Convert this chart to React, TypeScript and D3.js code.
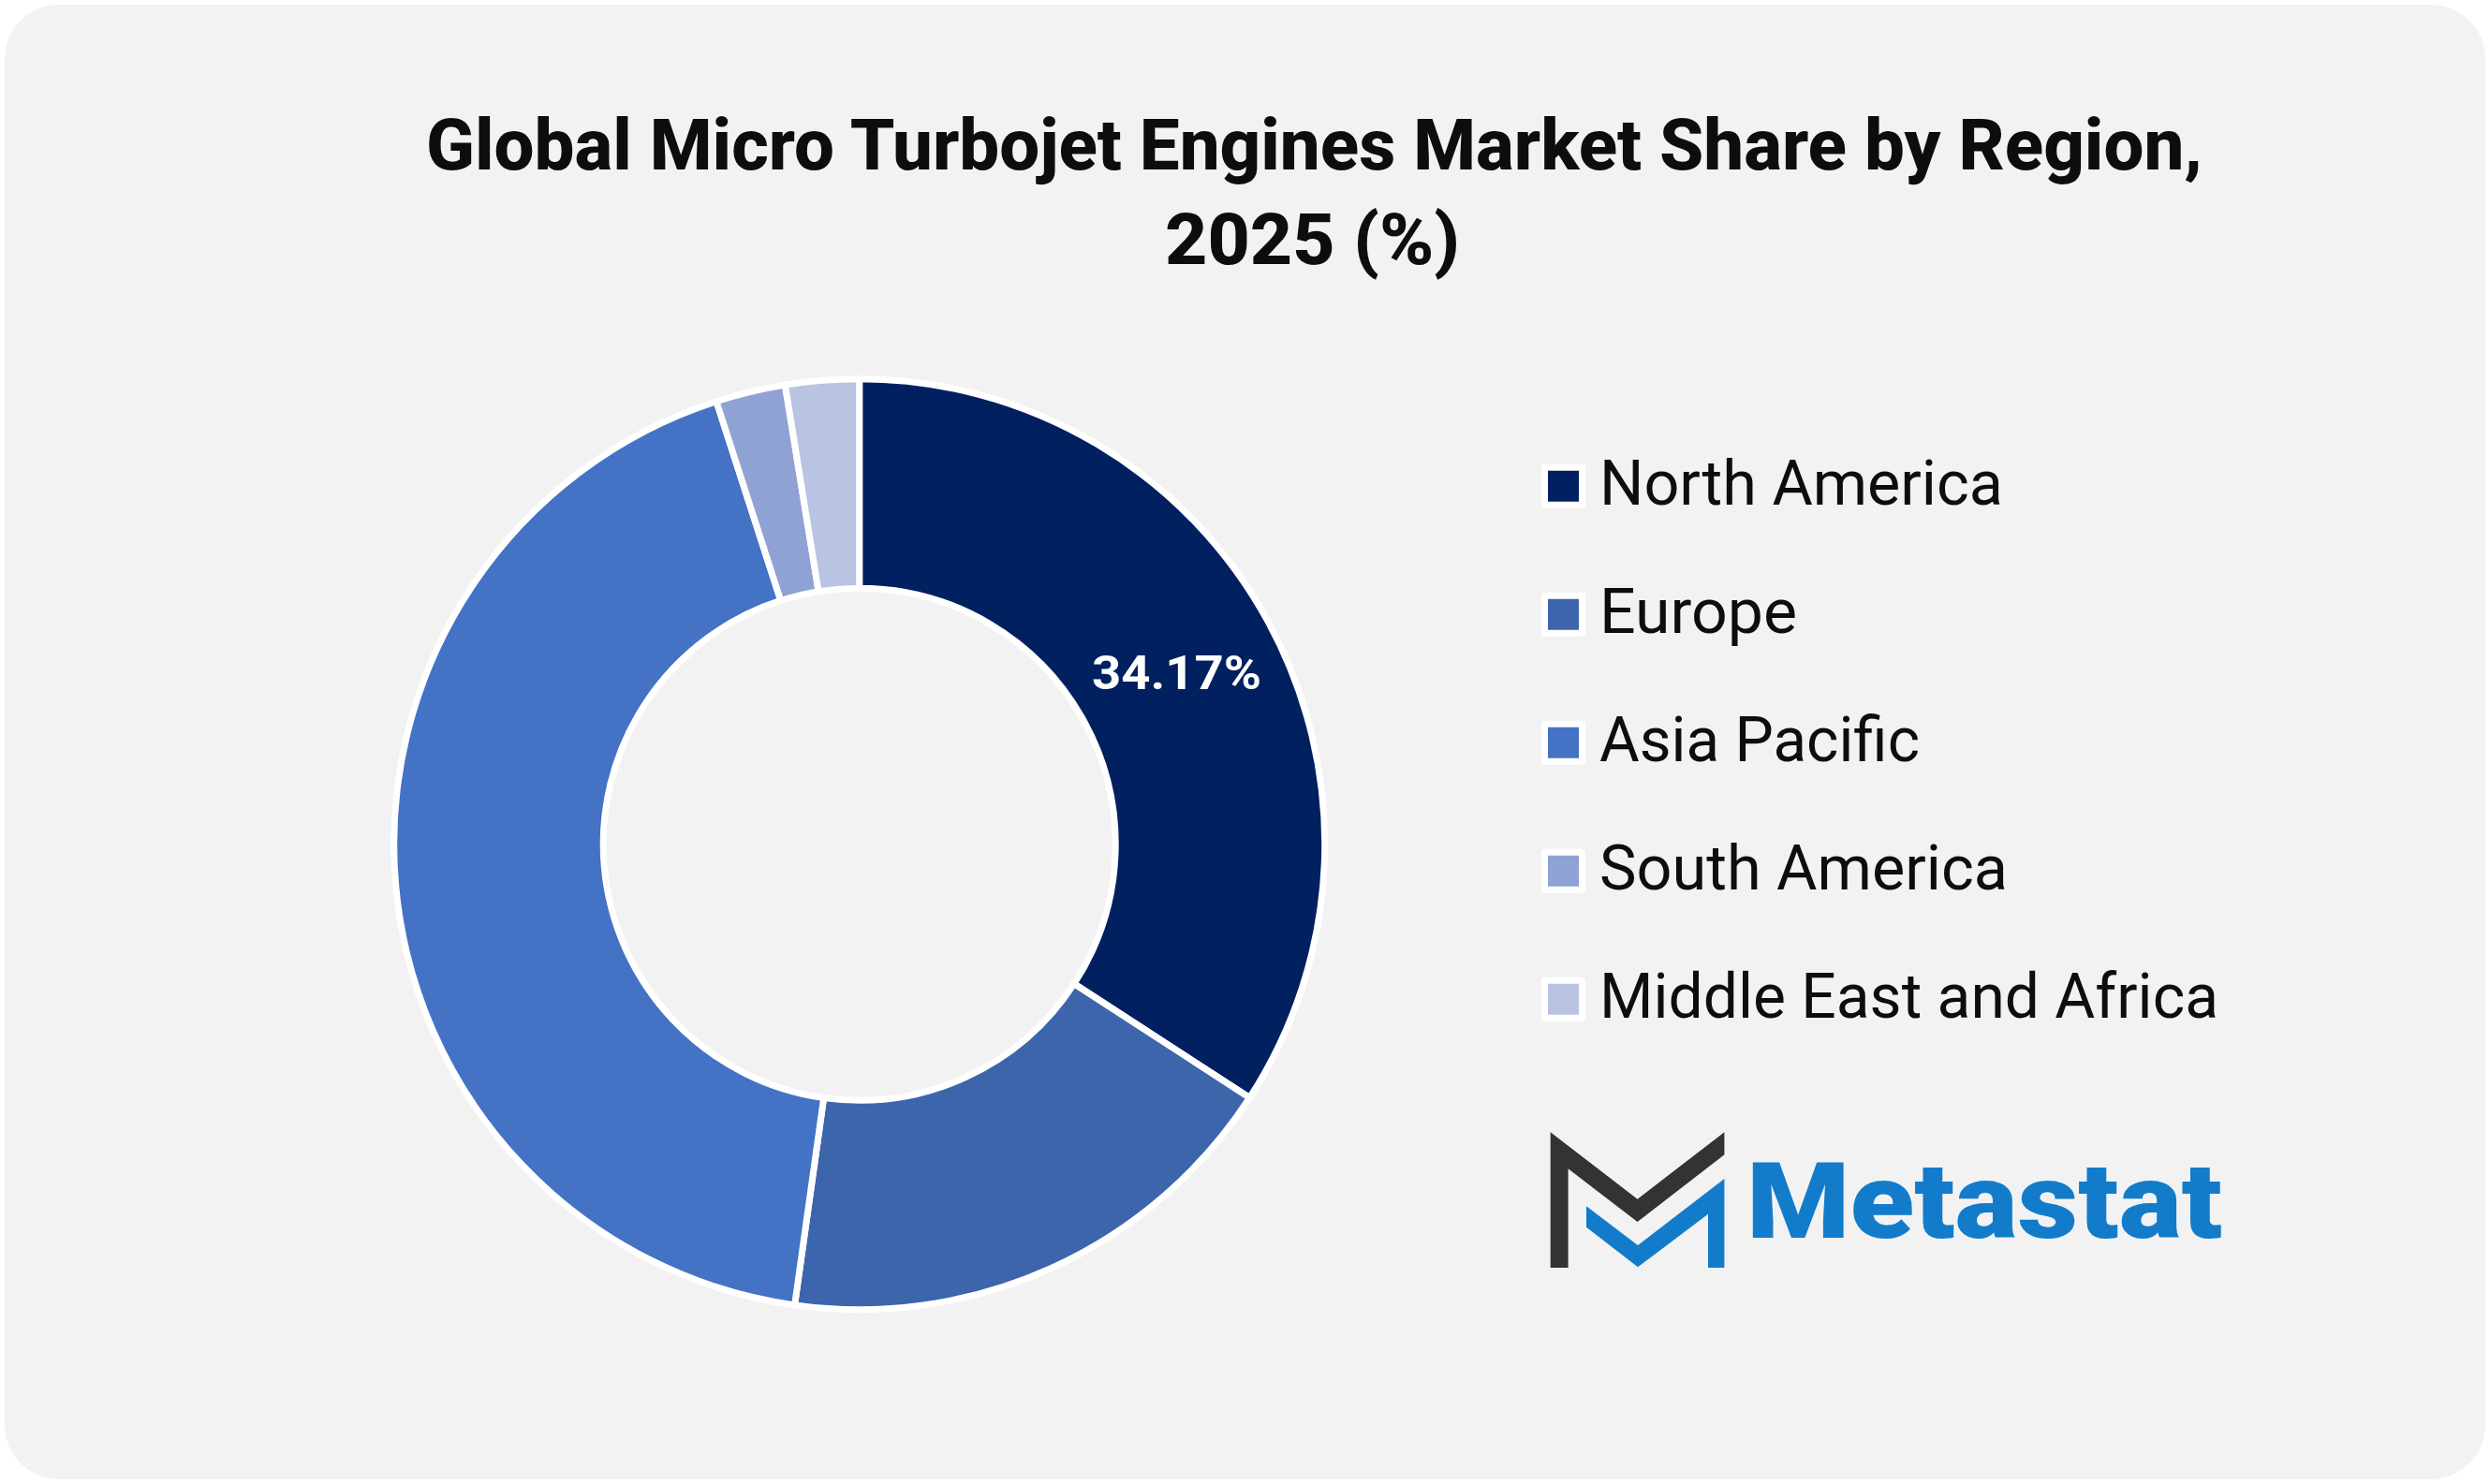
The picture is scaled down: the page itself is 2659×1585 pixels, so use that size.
import { useEffect, useRef } from "react";
import * as d3 from "d3";

const WIDTH = 2659;
const HEIGHT = 1585;

const regions = ["North America", "Europe", "Asia Pacific", "South America", "Middle East and Africa"];
const shares = [34.17, 18.05, 42.81, 2.42, 2.55];
const colors = ["#002060", "#3D65AB", "#4472C4", "#8FA2D4", "#B9C3E2"];
const titleLines = ["Global Micro Turbojet Engines Market Share by Region,", "2025 (%)"];
const shownLabel = "34.17%";

// width each label takes in the reference, the fonts here are a bit off
const legendWidths = [431, 211, 342, 436, 661];
const TEXT_COLOR = "#0D0D0D";
const SANS = "Roboto, 'Noto Sans', sans-serif";

export default function App() {
  const svgRef = useRef<SVGSVGElement>(null);

  useEffect(() => {
    if (!svgRef.current) return;
    const svg = d3.select(svgRef.current);
    svg.selectAll("*").remove();

    svg
      .append("rect")
      .attr("x", 5)
      .attr("y", 5)
      .attr("width", WIDTH - 10)
      .attr("height", HEIGHT - 10)
      .attr("rx", 58)
      .attr("fill", "#F2F2F2");

    // title
    const titleSpans = [
      { x: 455, y: 181, len: 1897 },
      { x: 1244, y: 282, len: 315 },
    ];
    titleLines.forEach((line, i) => {
      svg
        .append("text")
        .attr("x", titleSpans[i].x)
        .attr("y", titleSpans[i].y)
        .attr("font-family", SANS)
        .attr("font-weight", 800)
        .attr("font-size", 76)
        .attr("fill", TEXT_COLOR)
        .attr("textLength", titleSpans[i].len)
        .attr("lengthAdjust", "spacingAndGlyphs")
        .text(line);
    });

    // donut
    const pie = d3
      .pie<number>()
      .sort(null)
      .value((d) => d);
    const arc = d3.arc<d3.PieArcDatum<number>>().innerRadius(273.5).outerRadius(497);

    const donut = svg.append("g").attr("transform", "translate(917.7,901.7)");
    donut
      .selectAll("path")
      .data(pie(shares))
      .enter()
      .append("path")
      .attr("d", arc)
      .attr("fill", (_, i) => colors[i])
      .attr("stroke", "#fff")
      .attr("stroke-width", 7)
      .attr("stroke-linejoin", "round");

    svg
      .append("text")
      .attr("x", 1166)
      .attr("y", 736)
      .attr("font-family", SANS)
      .attr("font-weight", 700)
      .attr("font-size", 50)
      .attr("fill", "#fff")
      .attr("textLength", 181)
      .attr("lengthAdjust", "spacingAndGlyphs")
      .text(shownLabel);

    // legend
    const legendY = d3.scalePoint<string>().domain(regions).range([519.3, 1067.3]);
    const legend = svg
      .selectAll(".legend-item")
      .data(regions)
      .enter()
      .append("g")
      .attr("class", "legend-item")
      .attr("transform", (d) => `translate(1669.5,${legendY(d)})`);

    legend
      .append("rect")
      .attr("x", -20)
      .attr("y", -20)
      .attr("width", 40)
      .attr("height", 40)
      .attr("fill", (_, i) => colors[i])
      .attr("stroke", "#fff")
      .attr("stroke-width", 7)
      .attr("stroke-linejoin", "round");

    legend
      .append("text")
      .attr("x", 38.5)
      .attr("y", 20)
      .attr("font-family", SANS)
      .attr("font-size", 66)
      .attr("fill", TEXT_COLOR)
      .attr("textLength", (_, i) => legendWidths[i])
      .attr("lengthAdjust", "spacingAndGlyphs")
      .text((d) => d);

    // logo
    svg
      .append("path")
      .attr(
        "d",
        "M1655.7,1209.3 L1748.6,1280.7 L1841.4,1209.3 L1841.4,1233.3 L1748.6,1305 L1674.6,1248.3 L1674.6,1354 L1655.7,1354 Z"
      )
      .attr("fill", "#333333");
    svg
      .append("path")
      .attr(
        "d",
        "M1841.4,1259 L1841.4,1354 L1824,1354 L1824,1296.7 L1749,1353.3 L1694,1310.7 L1694,1288.3 L1749,1330 Z"
      )
      .attr("fill", "#127CCB");
    svg
      .append("text")
      .attr("x", 1865)
      .attr("y", 1322)
      .attr("font-family", SANS)
      .attr("font-weight", 900)
      .attr("font-size", 114)
      .attr("fill", "#127CCB")
      .attr("textLength", 508)
      .attr("lengthAdjust", "spacingAndGlyphs")
      .text("Metastat");
  }, []);

  return (
    <svg
      ref={svgRef}
      width={WIDTH}
      height={HEIGHT}
      style={{ position: "absolute", left: 0, top: 0, display: "block" }}
    />
  );
}
